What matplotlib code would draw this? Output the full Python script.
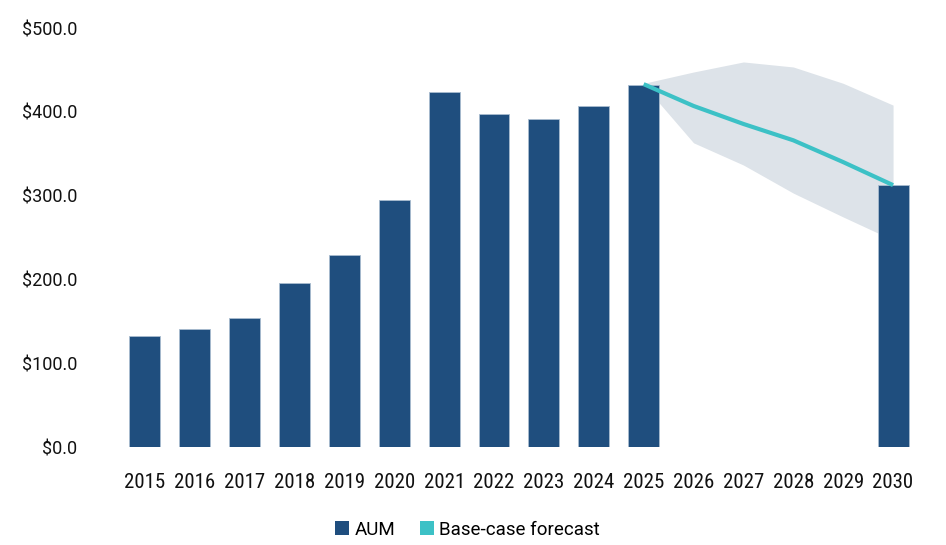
import matplotlib
matplotlib.use("Agg")
import matplotlib.pyplot as plt
from matplotlib.patches import Patch
import numpy as np

years = ["2015", "2016", "2017", "2018", "2019", "2020", "2021", "2022",
         "2023", "2024", "2025", "2026", "2027", "2028", "2029", "2030"]
aum = [132.5, 141.0, 154.0, 195.5, 229.0, 294.5, 423.5, 397.5, 391.5, 407.0,
       432.5, None, None, None, None, 312.5]
fc_years = ["2025", "2026", "2027", "2028", "2029", "2030"]
forecast = [433.0, 407.0, 385.5, 366.0, 340.0, 312.5]
band_upper = [434.0, 447.5, 459.5, 453.5, 434.0, 408.0]
band_lower = [432.0, 363.0, 336.5, 303.0, 274.5, 247.0]
yticks = [0, 100, 200, 300, 400, 500]

BAR = "#1f4e7e"
TEAL = "#3cc1c6"
BAND = "#dde3e9"

plt.rcParams['font.family'] = ['Roboto', 'DejaVu Sans']

fig = plt.figure(figsize=(9.46, 5.45), dpi=100)
ax = fig.add_axes([0.1268, 0.1798, 0.8436, 0.7688])

x = np.arange(len(years))
idx = {y: i for i, y in enumerate(years)}
fx = np.array([idx[y] for y in fc_years])

ax.fill_between(fx, band_lower, band_upper, color=BAND, lw=0, zorder=1)

bx = [i for i, v in enumerate(aum) if v is not None]
bv = [v for v in aum if v is not None]
ax.bar(bx, bv, width=0.62, color=BAR, edgecolor="#a9bccf", linewidth=0.6, zorder=2)

ax.plot(fx, forecast, color=TEAL, lw=3, zorder=3, solid_capstyle='butt')

ax.set_xlim(-0.5, len(years) - 0.5)
ax.set_ylim(0, 500)
ax.set_xticks(x)
ax.set_xticklabels(years, fontsize=15, family=['Roboto Condensed', 'Liberation Sans Narrow', 'Roboto'])
ax.set_yticks(yticks)
ax.set_yticklabels([f"${v:.1f}" for v in yticks], fontsize=13)
ax.tick_params(axis='y', length=0, pad=31, colors='#111111')
ax.tick_params(axis='x', length=0, pad=19, colors='#111111')
for s in ax.spines.values():
    s.set_visible(False)

handles = [Patch(facecolor=BAR, edgecolor='none'), Patch(facecolor=TEAL, edgecolor='none')]
fig.legend(handles, ["AUM", "Base-case forecast"], loc='center', bbox_to_anchor=(0.494, 0.028),
           ncol=2, frameon=False, fontsize=13.5, handlelength=0.75, handleheight=0.75,
           handletextpad=0.3, columnspacing=1.3)

fig.savefig("out.png", dpi=100)
